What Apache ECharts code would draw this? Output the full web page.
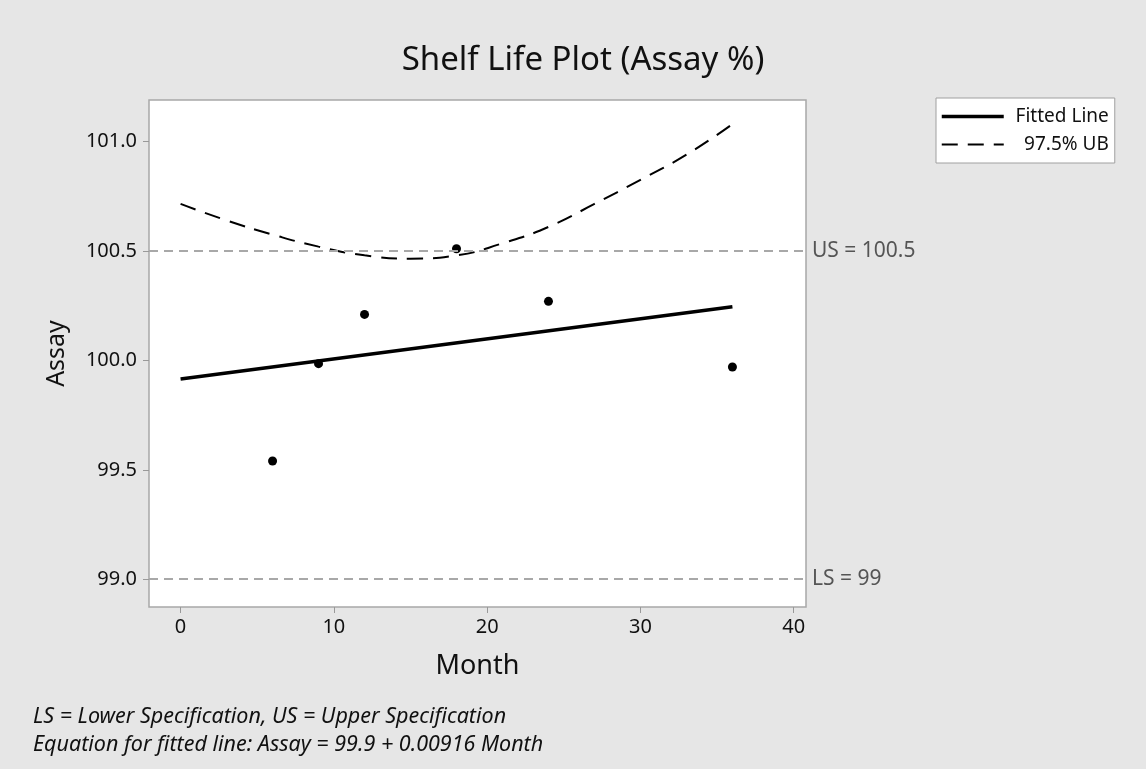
<!DOCTYPE html>
<html>
<head>
<meta charset="utf-8">
<script src="https://cdn.jsdelivr.net/npm/echarts@6/dist/echarts.min.js"></script>
<style>
html,body{margin:0;padding:0;background:#e6e6e6;}
#chart{width:1146px;height:769px;}
</style>
</head>
<body>
<div id="chart"></div>
<script>
// Observed data
const months = [6, 9, 12, 18, 24, 36];
const assay = [99.54, 99.985, 100.21, 100.51, 100.27, 99.97];
// Fitted line
const fitMonths = [0, 36];
const fitValues = [99.915, 100.245];
// 97.5% upper bound
const ubMonths = [0, 3, 6, 9, 12, 15, 18, 21, 24, 27, 30, 33, 36];
const ubValues = [100.715, 100.64, 100.575, 100.52, 100.48, 100.465, 100.48, 100.535, 100.61, 100.715, 100.825, 100.94, 101.08];
// Specification limits
const upperSpec = 100.5;
const lowerSpec = 99;
// Tick labels
const xTicks = [0, 10, 20, 30, 40];
const yTicks = [99.0, 99.5, 100.0, 100.5, 101.0];

const FONT = 'Noto Sans';
const chart = echarts.init(document.getElementById('chart'));
chart.setOption({
  backgroundColor: '#e6e6e6',
  animation: false,
  textStyle: { fontFamily: FONT },
  title: {
    text: 'Shelf Life Plot (Assay %)',
    left: 578, textAlign: 'center', top: 39,
    textStyle: { fontFamily: FONT, fontSize: 33, fontWeight: 'normal', color: '#111' }
  },
  grid: {
    left: 149, right: 340, top: 100, bottom: 162,
    show: true, backgroundColor: '#ffffff', borderColor: '#a8a8a8', borderWidth: 1.5
  },
  legend: {
    left: 936, top: 98, orient: 'vertical',
    backgroundColor: '#ffffff', borderColor: '#a0a0a0', borderWidth: 1,
    padding: [9, 6, 9, 4], itemGap: 9, itemWidth: 62, itemHeight: 14,
    itemStyle: { opacity: 0 },
    data: [
      { name: 'Fitted Line', lineStyle: { width: 3.5, color: '#000' } },
      { name: '97.5% UB', lineStyle: { width: 2, color: '#000', type: [16, 10] } }
    ],
    formatter: n => '{a|' + n + '}',
    textStyle: {
      rich: { a: { width: 100, align: 'right', fontSize: 19, fontFamily: FONT, color: '#111' } }
    }
  },
  xAxis: {
    type: 'value', min: -2.06, max: 40.8,
    name: 'Month', nameLocation: 'middle', nameGap: 46,
    nameTextStyle: { fontSize: 27, color: '#111', fontFamily: FONT },
    splitLine: { show: false },
    axisLine: { show: false, onZero: false },
    axisTick: { show: true, customValues: xTicks, length: 6, lineStyle: { color: '#999' } },
    axisLabel: { customValues: xTicks, fontSize: 20, color: '#111', margin: 10 }
  },
  yAxis: {
    type: 'value', min: 98.873, max: 101.19,
    name: 'Assay', nameLocation: 'middle', nameGap: 80,
    nameTextStyle: { fontSize: 25, color: '#111', fontFamily: FONT },
    splitLine: { show: false },
    axisLine: { show: false, onZero: false },
    axisTick: { show: true, customValues: yTicks, length: 6, lineStyle: { color: '#999' } },
    axisLabel: { customValues: yTicks, fontSize: 20, color: '#111', margin: 12,
      formatter: v => v.toFixed(1) }
  },
  series: [
    {
      name: 'Fitted Line', type: 'line', symbol: 'none',
      data: fitMonths.map((m, i) => [m, fitValues[i]]),
      lineStyle: { color: '#000', width: 3.5 }, itemStyle: { color: '#000' },
      z: 3
    },
    {
      name: '97.5% UB', type: 'line', symbol: 'none', smooth: true,
      data: ubMonths.map((m, i) => [m, ubValues[i]]),
      lineStyle: { color: '#000', width: 2, type: [16, 10] }, itemStyle: { color: '#000' },
      z: 3
    },
    {
      name: 'Data', type: 'scatter', symbol: 'circle', symbolSize: 9,
      data: months.map((m, i) => [m, assay[i]]),
      itemStyle: { color: '#000', opacity: 1 }, z: 4,
      markLine: {
        silent: true, symbol: 'none',
        lineStyle: { color: '#a8a8a8', width: 2, type: [9, 6] },
        label: { position: 'end', fontSize: 21, color: '#555', distance: 6 },
        data: [
          { yAxis: upperSpec, label: { formatter: 'US = ' + upperSpec } },
          { yAxis: lowerSpec, label: { formatter: 'LS = ' + lowerSpec } }
        ]
      }
    }
  ],
  graphic: [
    { type: 'text', left: 33, top: 706,
      style: { text: 'LS = Lower Specification, US = Upper Specification', fontSize: 21.5,
        fontStyle: 'italic', fontFamily: FONT, fill: '#111' } },
    { type: 'text', left: 33, top: 734,
      style: { text: 'Equation for fitted line: Assay = 99.9 + 0.00916 Month', fontSize: 21.5,
        fontStyle: 'italic', fontFamily: FONT, fill: '#111' } }
  ]
});
</script>
</body>
</html>
